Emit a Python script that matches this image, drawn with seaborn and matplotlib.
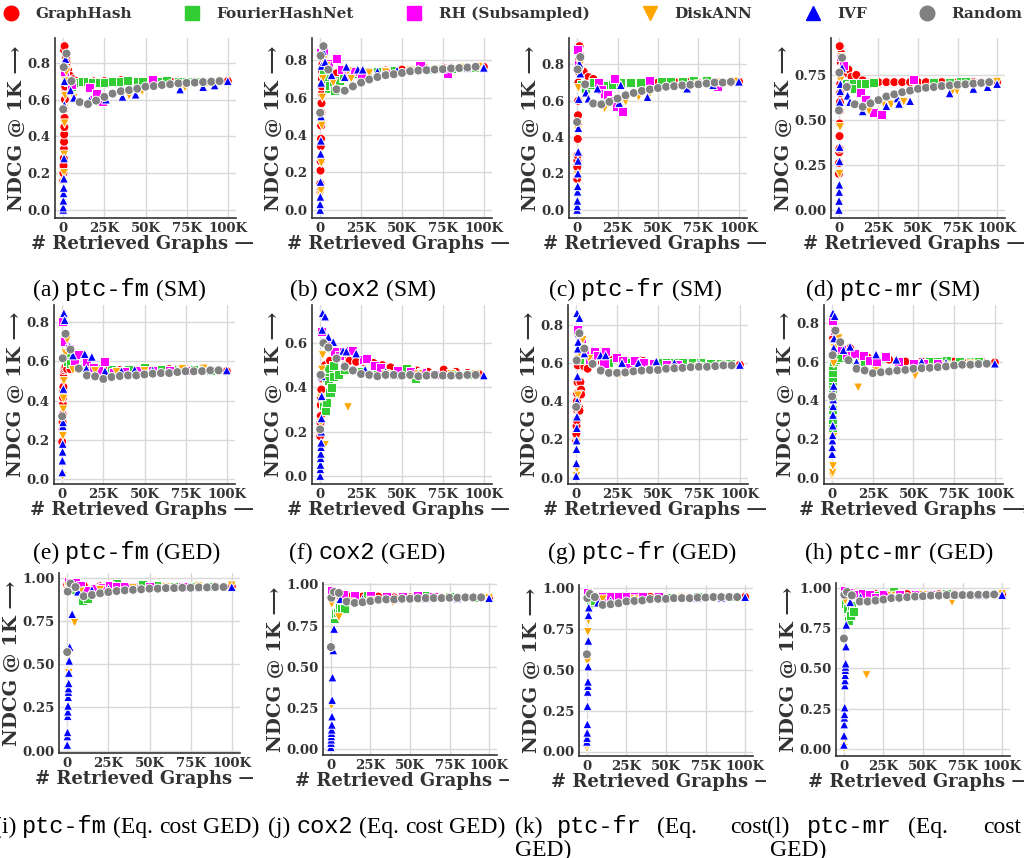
import matplotlib
matplotlib.use("Agg")
import matplotlib.pyplot as plt
import pandas as pd
import seaborn as sns
from matplotlib.lines import Line2D
from matplotlib.ticker import MultipleLocator, FormatStrFormatter, FixedLocator, FixedFormatter
from matplotlib.transforms import Bbox, TransformedBbox
from matplotlib.font_manager import FontProperties

# ---------------------------------------------------------------- data
METHODS = ["GraphHash", "FourierHashNet", "RH (Subsampled)", "DiskANN", "IVF", "Random"]
COLORS = {"GraphHash": "#ff0000", "FourierHashNet": "#32cd32", "RH (Subsampled)": "#ff00ff",
          "DiskANN": "#ffa500", "IVF": "#0000ff", "Random": "#808080"}
MARKERS = {"GraphHash": "o", "FourierHashNet": "s", "RH (Subsampled)": "s",
           "DiskANN": "v", "IVF": "^", "Random": "o"}

X_TICKS = [0, 25, 50, 75, 100]                 # thousands of retrieved graphs
X_TICK_LABELS = ["0", "25K", "50K", "75K", "100K"]

# random baseline is evaluated on a fixed retrieval budget grid (in K)
RANDOM_X = [0, 0.3, 2, 5, 10, 15, 20, 25, 30, 35, 40, 45, 50, 55, 60, 65, 70, 75, 80, 85, 90, 95]

# (retrieved graphs in K, NDCG@1K) per method and panel
# --- (a) ptc-fm, SM
A_GH = [(0, .16), (.1, .20), (.2, .24), (.3, .28), (.4, .33), (.5, .37), (.6, .41), (.7, .45), (.8, .50),
        (.9, .55), (1, .60), (1.1, .64), (1.2, .67), (1.4, .72), (1.6, .78), (1.8, .83), (.4, .87), (.8, .89),
        (2, .80), (3, .76), (4, .73), (6, .71), (8, .70), (12, .70), (18, .70), (25, .70), (30, .70),
        (35, .705), (40, .70), (45, .70), (50, .70), (55, .705), (60, .70), (65, .70), (70, .70), (75, .70),
        (80, .70), (85, .70), (90, .70), (95, .70), (100, .70)]
A_FH = [(3, .70), (5, .67), (8, .69), (10, .69), (12, .70), (15, .70), (18, .69), (22, .69), (25, .69),
        (30, .70), (35, .70), (39, .705), (45, .70), (48, .70), (55, .70), (60, .70), (63, .705), (70, .70),
        (75, .70), (80, .70), (85, .70), (90, .70)]
A_RH = [(1, .74), (3, .70), (5, .68), (16, .665), (18, .60), (20, .63), (24, .59), (54, .71)]
A_DA = [(.3, .15), (.5, .20), (.6, .30), (.8, .47), (1, .55), (1.2, .62), (1.5, .70), (2, .75), (6.5, .61),
        (40, .62), (48, .645), (74, .665), (88, .69), (95, .70)]
A_IV = [(0, 0), (0, .013), (.1, .05), (.2, .09), (.3, .12), (.4, .17), (.5, .28), (.7, .57), (.8, .70),
        (1, .80), (1.4, .82), (4.5, .65), (6.5, .61), (16, .595), (26, .60), (36, .615), (44, .627),
        (71, .655), (85, .668), (92, .677), (100, .70)]
A_RD = [.547, .776, .85, .70, .586, .575, .594, .614, .632, .645, .651, .659, .67, .673, .679, .683, .688,
        .69, .692, .695, .697, .70]

# --- (b) cox2, SM
B_GH = [(0, .10), (.1, .14), (.2, .21), (.3, .26), (.4, .34), (.5, .38), (.6, .45), (.7, .52), (.8, .57),
        (.9, .62), (1, .66), (1.1, .70), (1.2, .74), (1.4, .78), (1.6, .81), (3, .78), (6, .74), (10, .73),
        (15, .73), (20, .73), (25, .735), (30, .74), (35, .74), (40, .745), (45, .745), (50, .75), (55, .75),
        (60, .75), (65, .755), (70, .755), (75, .76), (80, .76), (85, .76), (90, .76), (95, .765), (100, .765)]
B_FH = [(2, .73), (4, .70), (5, .65), (6, .665), (8, .67), (9, .64), (12, .69), (14, .71), (18, .72),
        (22, .73), (29, .74), (35, .74), (45, .745), (55, .75), (65, .75), (72, .755), (80, .755), (88, .76),
        (95, .76)]
B_RH = [(.5, .84), (2, .85), (5, .78), (10, .81), (13, .75), (17, .72), (21, .74), (25, .71), (40, .74),
        (61, .77), (78, .73)]
B_DA = [(.3, .08), (.5, .10), (.7, .25), (1, .45), (1.3, .60), (1.6, .70), (2, .80), (4, .77), (8, .68),
        (17, .74), (19, .70), (30, .73), (40, .735), (55, .745), (70, .75), (88, .76), (97, .765)]
B_IV = [(0, 0), (0, .03), (.1, .07), (.2, .15), (.3, .30), (.4, .37), (.5, .50), (.6, .68), (.8, .77),
        (1.6, .85), (3, .79), (7, .72), (15, .71), (16, .765), (23, .75), (26, .75), (35, .74), (47, .745),
        (60, .75), (75, .755), (90, .76), (100, .76)]
B_RD = [.519, .824, .875, .75, .644, .637, .66, .68, .697, .71, .72, .725, .732, .741, .745, .747, .75,
        .752, .756, .758, .761, .765]

# --- (c) ptc-fr, SM
C_GH = [(0, .17), (.1, .235), (.2, .27), (.3, .30), (.4, .39), (.5, .465), (.6, .52), (.7, .60), (.8, .70),
        (.9, .76), (1, .82), (1.2, .86), (1.5, .90), (2, .85), (4, .76), (7, .73), (10, .72), (15, .68),
        (20, .69), (25, .695), (30, .70), (35, .70), (40, .70), (45, .70), (50, .70), (55, .70), (60, .705),
        (65, .70), (70, .705), (75, .70), (80, .705), (85, .70), (90, .70), (95, .70), (100, .705)]
C_FH = [(3, .69), (5, .667), (8, .69), (10, .70), (14, .69), (18, .686), (22, .69), (27, .70), (33, .70),
        (39, .70), (45, .70), (52, .705), (58, .705), (65, .705), (72, .71), (80, .71)]
C_RH = [(.5, .88), (1, .80), (13, .70), (15, .66), (17, .64), (19, .634), (21, .60), (23, .72),
        (24.5, .566), (28, .54), (45, .71), (87, .677)]
C_DA = [(.2, .19), (.5, .44), (.8, .67), (1.2, .75), (2, .80), (8, .585), (17, .557), (30, .594), (38, .62),
        (45, .64), (60, .67), (75, .69), (88, .70), (98, .705)]
C_IV = [(0, 0), (.1, .02), (.2, .05), (.3, .10), (.4, .13), (.5, .20), (.6, .27), (.7, .32), (.8, .45),
        (1, .61), (1.4, .805), (2, .75), (5.5, .645), (7, .612), (12.6, .667), (26, .588), (27, .686),
        (43.5, .62), (68, .667), (84, .686), (100, .705)]
C_RD = [.483, .772, .84, .69, .585, .58, .594, .612, .63, .643, .654, .662, .67, .677, .68, .684, .688,
        .69, .695, .70, .70, .704]

# --- (d) ptc-mr, SM
D_GH = [(0, .20), (.1, .26), (.2, .32), (.3, .34), (.4, .41), (.5, .48), (.6, .55), (.7, .60), (.8, .65),
        (.9, .70), (1, .75), (1.2, .82), (1.5, .87), (.5, .91), (2.5, .80), (4, .76), (6, .78), (8, .74),
        (11, .75), (15, .72), (20, .71), (25, .71), (30, .71), (35, .71), (40, .71), (45, .71), (50, .71),
        (55, .71), (60, .71), (65, .71), (70, .71), (75, .71), (80, .71), (85, .71), (90, .71), (95, .71),
        (100, .71)]
D_FH = [(5, .70), (7, .69), (9, .705), (10, .673), (13.5, .70), (17, .70), (22, .706), (60, .71), (70, .71),
        (77, .712), (80, .715)]
D_RH = [(1, .85), (3, .80), (13.5, .654), (16.7, .615), (18.8, .577), (22, .542), (27, .53), (47, .725)]
D_DA = [(.2, .03), (.4, .20), (.7, .46), (1, .72), (1.5, .85), (19, .55), (29, .58), (33, .585), (41, .60),
        (71.5, .654), (74.7, .66), (90, .696), (100, .712)]
D_IV = [(0, 0), (.1, .05), (.2, .10), (.3, .14), (.4, .27), (.5, .35), (.6, .60), (.8, .66), (1, .70),
        (2, .79), (5.5, .635), (7, .60), (15, .548), (30, .577), (37, .62), (38, .59), (45, .605), (70, .648),
        (85, .673), (94, .683), (100, .70)]
D_RD = [.553, .763, .846, .683, .587, .573, .592, .61, .63, .642, .654, .663, .673, .679, .683, .688, .692,
        .696, .698, .702, .706, .71]

# --- (e) ptc-fm, GED
E_GH = [(0, .19), (.1, .25), (.2, .29), (.3, .33), (.4, .38), (.5, .415), (.6, .45), (.7, .47), (.8, .52),
        (1, .555), (1.4, .563), (2, .57), (3, .56), (5, .56), (8, .57), (12, .565), (16, .56), (20, .56),
        (25, .56), (30, .555), (35, .555), (40, .555), (45, .555), (50, .555), (55, .555), (60, .56),
        (65, .56), (70, .56), (75, .56), (80, .555), (85, .555), (90, .555), (95, .555), (100, .55)]
E_FH = [(1.5, .62), (2.5, .64), (3.5, .60), (5, .59), (10, .57), (20, .565), (30, .56), (40, .56),
        (50, .566), (60, .56), (70, .56), (80, .557), (90, .555)]
E_RH = [(0, .80), (1.4, .70), (4.5, .667), (7.5, .59), (9.6, .637), (14.7, .60), (18.8, .57), (22, .555),
        (25.5, .60), (31, .545), (38, .55), (46, .554), (55, .555), (65, .555), (75, .555)]
E_DA = [(.2, .017), (.4, .22), (.6, .355), (.8, .41), (1, .50), (2, .64), (3, .71), (6.5, .555), (20, .55),
        (33, .545), (50, .55), (73, .56), (86, .563)]
E_IV = [(0, .035), (.1, .095), (.2, .14), (.3, .18), (.4, .27), (.5, .29), (.7, .46), (1, .845), (1.5, .81),
        (4.5, .675), (6.5, .63), (13.7, .637), (14.7, .563), (18, .623), (26, .55), (36, .55), (44, .557),
        (55, .555), (70, .555), (85, .555), (100, .554)]
E_RD = [.32, .615, .74, .66, .563, .528, .523, .51, .52, .525, .528, .528, .533, .537, .54, .54, .545,
        .549, .549, .55, .554, .554]

# --- (f) cox2, GED
F_GH = [(0, .18), (.1, .20), (.2, .24), (.3, .27), (.4, .32), (.5, .35), (.7, .39), (1, .44), (3, .50),
        (6, .52), (10, .53), (14, .535), (18, .52), (22, .515), (26.5, .515), (32.6, .51), (38, .50),
        (43, .49), (50, .48), (59, .476), (66, .47), (75.5, .48), (83, .47), (90, .465), (97, .46)]
F_FH = [(2, .317), (3, .295), (3.7, .446), (4, .333), (5, .43), (5, .484), (6, .378), (7, .40), (8, .45),
        (8, .50), (11, .46), (15, .48), (25, .47), (35, .47), (45, .46), (53, .484), (58, .44), (70, .46),
        (80, .46), (90, .46)]
F_RH = [(1, .65), (4, .605), (9, .56), (12, .544), (14, .56), (18, .564), (20, .567), (26.5, .525),
        (28.5, .53), (33, .50), (37, .49), (47, .476), (55, .47), (62, .465), (70, .46)]
F_DA = [(.2, .20), (.4, .24), (.6, .35), (.8, .45), (1, .48), (1.5, .545), (3, .14), (17, .31), (40, .46),
        (60, .46), (80, .46), (95, .46)]
F_IV = [(0, 0), (.1, .03), (.2, .05), (.3, .08), (.4, .10), (.5, .13), (.6, .15), (.7, .20), (.8, .26),
        (.9, .36), (1, .45), (1.2, .66), (1.5, .735), (3, .72), (5, .627), (8, .605), (14, .565), (16, .562),
        (22, .553), (27.5, .48), (40, .47), (60, .46), (80, .455), (100, .454)]
F_RD = [.21, .456, .60, .58, .53, .494, .476, .46, .456, .45, .456, .456, .453, .456, .45, .453, .456,
        .453, .453, .453, .456, .456]

# --- (g) ptc-fr, GED
G_GH = [(0, .195), (.1, .23), (.2, .27), (.3, .30), (.4, .355), (.5, .40), (.6, .44), (.8, .50), (1, .587),
        (2, .365), (2, .35), (2.6, .50), (3, .46), (3, .435), (5, .58), (7, .57), (10, .60), (15, .61),
        (20, .62), (25, .62), (30, .615), (35, .61), (39, .613), (41, .61), (49, .604), (55, .60), (60, .60),
        (65, .60), (70, .595), (75, .595), (80, .595), (85, .59), (90, .59), (95, .59), (100, .59)]
G_FH = [(2, .62), (4, .65), (10, .61), (20, .60), (30, .60), (45, .60), (50, .60), (55, .604), (60, .60),
        (65, .60), (71, .60), (76, .60), (82, .598), (88, .595), (94, .595)]
G_RH = [(1, .775), (3, .73), (5, .66), (8, .62), (11, .66), (13, .64), (17, .595), (18, .658), (24.5, .63),
        (28.5, .613), (31.6, .578), (35.7, .613), (41, .604), (47, .595), (55, .59), (62, .59)]
G_DA = [(.2, .01), (.4, .045), (.6, .18), (1, .43), (1.5, .62), (2, .65), (4, .72), (8, .62), (22, .545),
        (27, .54), (35, .55), (45, .56), (60, .57), (75, .58), (90, .585)]
G_IV = [(0, .01), (.1, .076), (.2, .15), (.3, .195), (.4, .26), (.5, .32), (.6, .40), (.8, .53), (1, .675),
        (1.2, .71), (1.5, .755), (.5, .86), (2, .835), (5, .65), (15, .64), (18, .64), (28, .60), (38, .60),
        (49, .608), (60, .60), (75, .595), (90, .59), (100, .59)]
G_RD = [.37, .613, .755, .675, .595, .56, .548, .548, .55, .556, .56, .563, .563, .57, .572, .574, .578,
        .58, .58, .583, .587, .587]

# --- (h) ptc-mr, GED
H_GH = [(0, .265), (.2, .31), (.4, .325), (.6, .72), (1, .70), (2, .68), (4, .66), (8, .65), (11, .67),
        (14, .64), (17, .63), (22, .62), (27, .615), (35, .61), (45, .60), (55, .60), (65, .60), (75, .60),
        (80, .60), (86, .60), (92, .60), (100, .595)]
H_FH = [(0, .255), (0, .30), (0, .35), (0, .405), (0, .45), (0, .475), (0, .50), (.2, .52), (.2, .545),
        (.3, .58), (.4, .615), (1, .60), (2, .61), (5, .62), (10, .61), (20, .60), (40, .60), (60, .60),
        (65, .60), (70, .605), (78, .60), (85, .60), (90, .60)]
H_RH = [(.5, .81), (1.5, .76), (2.5, .70), (5.5, .66), (9, .63), (14, .64), (19, .633), (23, .607),
        (27, .598), (33, .624), (41, .598), (50, .592), (56, .59), (65, .59)]
H_DA = [(.1, .01), (.3, .025), (.5, .06), (.8, .21), (1, .59), (1.5, .67), (4, .72), (16, .466), (27, .55),
        (51, .527), (70, .58), (85, .59)]
H_IV = [(0, .123), (.1, .158), (.2, .193), (.3, .22), (.4, .27), (.5, .325), (.6, .37), (.7, .405),
        (.8, .44), (.9, .475), (1, .67), (1.2, .72), (.5, .85), (1.6, .835), (7, .66), (11, .677), (15, .598),
        (27, .637), (39.4, .61), (55, .60), (70, .595), (85, .59), (100, .59)]
H_RD = [.42, .633, .76, .70, .607, .563, .554, .54, .545, .549, .554, .557, .563, .566, .568, .571, .575,
        .58, .584, .584, .587, .589]

# --- (i) ptc-fm, equal-cost GED
I_GH = [(0, .96), (1, .97), (3, .97), (6, .96), (10, .955), (20, .95), (30, .95), (40, .95), (50, .95),
        (60, .95), (70, .95), (80, .95), (90, .95), (100, .95)]
I_FH = [(2, .96), (5, .93), (9.5, .867), (12.5, .88), (20, .93), (30, .965), (40, .955), (46, .962),
        (55, .955), (65, .95), (75, .95), (85, .95)]
I_RH = [(.5, .98), (2, .975), (5, .97), (8, .955), (12, .926), (16.6, .936), (21.7, .942), (25.7, .956),
        (30, .95), (35, .95), (40, .95), (50, .95), (60, .95), (70, .95)]
I_DA = [(.5, .95), (1, .45), (4.5, .74), (8, .92), (20, .93), (40, .94), (60, .945), (80, .95), (100, .955)]
I_IV = [(0, .034), (.1, .083), (.2, .107), (.3, .20), (.4, .226), (.5, .26), (.6, .31), (.7, .34), (.8, .36),
        (.9, .39), (1, .45), (1.2, .52), (1.5, .60), (3, .79), (6.5, .92), (15, .93), (25, .935), (43, .94),
        (60, .945), (80, .945), (100, .946)]
I_RD = [.57, .92, .966, .946, .893, .90, .91, .917, .923, .927, .93, .933, .937, .937, .94, .94, .942,
        .942, .944, .944, .946, .946]

# --- (j) cox2, equal-cost GED
J_GH = [(0, .93), (2, .94), (5, .935), (10, .93), (20, .925), (30, .925), (40, .92), (50, .92), (60, .92),
        (70, .92), (80, .92), (90, .92), (100, .92)]
J_FH = [(2, .79), (3, .82), (4, .83), (5.3, .84), (5.3, .88), (6.8, .85), (8.5, .855), (15, .92), (23, .932),
        (35, .925), (45, .92), (60, .93), (75, .925), (90, .92)]
J_RH = [(.5, .96), (3, .95), (8, .94), (15, .93), (25, .93), (35, .925), (45, .925), (55, .93), (65, .925)]
J_DA = [(.3, .266), (.5, .88), (5, .80), (12.7, .89), (25, .90), (39, .89), (55, .905), (70, .91),
        (85, .915), (100, .915)]
J_IV = [(0, .014), (.1, .04), (.2, .06), (.3, .08), (.4, .10), (.5, .12), (.6, .15), (.7, .20), (.8, .30),
        (1, .436), (1.5, .60), (2, .73), (6, .91), (20, .91), (40, .91), (60, .915), (80, .915), (100, .916)]
J_RD = [.62, .918, .953, .947, .895, .887, .891, .898, .906, .908, .908, .912, .912, .914, .916, .916,
        .916, .918, .918, .92, .92, .92]

# --- (k) ptc-fr, equal-cost GED
K_GH = [(0, .95), (3, .95), (10, .945), (20, .945), (30, .945), (40, .945), (50, .945), (60, .945),
        (70, .945), (80, .945), (90, .945), (100, .945)]
K_FH = [(2, .92), (3.5, .91), (5, .92), (15, .93), (30, .94), (50, .94), (70, .945), (90, .945)]
K_RH = [(.5, .97), (2, .96), (10, .95), (15, .95), (20, .95), (25, .948), (30, .95), (35, .945), (45, .945)]
K_DA = [(.1, .02), (.2, .04), (.4, .55), (.6, .73), (1, .80), (1.5, .855), (3, .95), (10, .93), (30, .93),
        (60, .94), (90, .945)]
K_IV = [(0, .06), (.1, .083), (.2, .115), (.3, .167), (.4, .277), (.5, .365), (.6, .40), (.7, .427),
        (.8, .52), (.9, .677), (1, .833), (1.2, .88), (7, .91), (15, .92), (30, .93), (50, .935), (70, .94),
        (85, .94), (100, .944)]
K_RD = [.594, .937, .962, .944, .896, .90, .906, .917, .92, .923, .931, .933, .933, .937, .937, .937,
        .941, .941, .944, .944, .944, .944]

# --- (l) ptc-mr, equal-cost GED
L_GH = [(0, .97), (2, .975), (5, .97), (10, .965), (20, .96), (30, .96), (40, .96), (50, .96), (60, .96),
        (70, .96), (80, .96), (90, .96), (100, .96)]
L_FH = [(1, .90), (2, .87), (3, .795), (4, .825), (5, .89), (6, .85), (10, .93), (20, .95), (31.6, .973),
        (45, .96), (65, .965), (80, .96)]
L_RH = [(.5, .98), (3, .97), (8, .955), (12, .962), (16, .958), (20, .94), (25, .955), (35, .955),
        (45, .955), (55, .955)]
L_DA = [(.1, .006), (.3, .05), (.8, .92), (14.3, .458), (30, .95), (50, .955), (68.4, .91), (85, .955),
        (100, .96)]
L_IV = [(0, .027), (.1, .084), (.2, .153), (.3, .195), (.4, .216), (.5, .258), (.6, .395), (.7, .426),
        (.8, .458), (.9, .49), (1, .51), (1.1, .53), (1.3, .636), (1.5, .77), (4, .91), (10.5, .94),
        (30, .945), (50, .95), (70, .955), (85, .955), (100, .955)]
L_RD = [.685, .956, .973, .952, .914, .914, .92, .926, .935, .937, .941, .945, .947, .951, .951, .954,
        .954, .954, .954, .956, .956, .958]

PANEL_LETTERS = ["a", "b", "c", "d", "e", "f", "g", "h", "i", "j", "k", "l"]
DATASETS = ["ptc-fm", "cox2", "ptc-fr", "ptc-mr"] * 3
SETTINGS = ["(SM)"] * 4 + ["(GED)"] * 4 + ["(Eq. cost GED)"] * 4
PANEL_SERIES = [
    (A_GH, A_FH, A_RH, A_DA, A_IV, A_RD), (B_GH, B_FH, B_RH, B_DA, B_IV, B_RD),
    (C_GH, C_FH, C_RH, C_DA, C_IV, C_RD), (D_GH, D_FH, D_RH, D_DA, D_IV, D_RD),
    (E_GH, E_FH, E_RH, E_DA, E_IV, E_RD), (F_GH, F_FH, F_RH, F_DA, F_IV, F_RD),
    (G_GH, G_FH, G_RH, G_DA, G_IV, G_RD), (H_GH, H_FH, H_RH, H_DA, H_IV, H_RD),
    (I_GH, I_FH, I_RH, I_DA, I_IV, I_RD), (J_GH, J_FH, J_RH, J_DA, J_IV, J_RD),
    (K_GH, K_FH, K_RH, K_DA, K_IV, K_RD), (L_GH, L_FH, L_RH, L_DA, L_IV, L_RD),
]


def panel_frame(series):
    frames = []
    for method, pts in zip(METHODS[:-1], series[:-1]):
        frames.append(pd.DataFrame({"retrieved": [p[0] for p in pts],
                                    "ndcg": [p[1] for p in pts], "method": method}))
    rand = series[-1]
    assert len(rand) == len(RANDOM_X)
    frames.append(pd.DataFrame({"retrieved": RANDOM_X, "ndcg": rand, "method": "Random"}))
    return pd.concat(frames, ignore_index=True)


# ---------------------------------------------------------------- style
W, H = 1026, 858
sns.set_theme(style="whitegrid")
plt.rcParams.update({
    "font.family": ["DejaVu Serif", "DejaVu Sans"],
    "font.weight": "bold",
    "axes.edgecolor": "#333333",
    "axes.linewidth": 1.2,
    "grid.color": "#d9d9d9",
    "grid.linewidth": 1.0,
    "text.color": "#333333",
    "axes.labelcolor": "#333333",
    "xtick.color": "#333333",
    "ytick.color": "#333333",
})

fig = plt.figure(figsize=(W / 100, H / 100), dpi=100)

# axes frames in pixels: (left, top, right, bottom)
AX_BOXES = [
    (55, 38, 236, 218), (312, 38, 492, 218), (569, 38, 747, 218), (831, 38, 1005, 218),
    (54, 305, 235, 484), (312, 305, 492, 484), (568, 305, 748, 484), (824, 305, 1003, 484),
    (59, 573, 240, 753), (323, 583, 497, 755), (579, 585, 753, 756), (836, 583, 1010, 756),
]
Y_STEPS = [.2, .2, .2, .25, .2, .2, .2, .2, .25, .25, .25, .25]
COLUMN_RIGHT = [253, 509, 766, 1024]

for k, series in enumerate(PANEL_SERIES):
    l, t, r, b = AX_BOXES[k]
    ax = fig.add_axes([l / W, 1 - b / H, (r - l) / W, (b - t) / H])
    df = panel_frame(series)
    sns.scatterplot(data=df, x="retrieved", y="ndcg", hue="method", style="method",
                    hue_order=METHODS, style_order=METHODS, palette=COLORS, markers=MARKERS,
                    s=42, edgecolor="white", linewidth=0.7, legend=False, ax=ax, zorder=3)
    sns.despine(ax=ax)
    ax.xaxis.set_major_locator(FixedLocator(X_TICKS))
    ax.xaxis.set_major_formatter(FixedFormatter(X_TICK_LABELS))
    step = Y_STEPS[k]
    ax.yaxis.set_major_locator(MultipleLocator(step))
    ax.yaxis.set_major_formatter(FormatStrFormatter("%.2f" if step == .25 else "%.1f"))
    ax.tick_params(axis="both", labelsize=9.5, pad=3, length=0)
    for lab in ax.get_xticklabels() + ax.get_yticklabels():
        lab.set_fontweight("bold")
    ax.set_ylabel("NDCG @ 1K \u27f6", fontsize=14, fontweight="bold", labelpad=1)
    ax.set_xlabel("# Retrieved Graphs \u27f6", fontsize=13, fontweight="bold", labelpad=0)
    col = k % 4
    x0 = (COLUMN_RIGHT[col - 1] if col > 0 else 0) / W
    clip = TransformedBbox(Bbox.from_extents(x0, 0, COLUMN_RIGHT[col] / W, 1), fig.transFigure)
    ax.xaxis.label.set_clip_box(clip)
    ax.xaxis.label.set_clip_on(True)

# ---------------------------------------------------------------- legend
handles = [Line2D([], [], linestyle="none", marker=MARKERS[m], markersize=10.5,
                  markerfacecolor=COLORS[m], markeredgecolor=COLORS[m]) for m in METHODS]
fig.legend(handles, METHODS, loc="center", bbox_to_anchor=(0.5, 1 - 14 / H), ncol=6, frameon=False,
           prop=FontProperties(family="DejaVu Serif", weight="bold", size=11),
           handlelength=1.0, handletextpad=1.1, columnspacing=3.45, borderaxespad=0)

# ---------------------------------------------------------------- sub-captions
SERIF = FontProperties(family="Liberation Serif", weight="normal", size=17)
MONO = FontProperties(family="Liberation Mono", weight="normal", size=17)
SPACE = 6
renderer = fig.canvas.get_renderer()


def word(x_px, y_px, txt, mono=False):
    return fig.text(x_px / W, 1 - y_px / H, txt, fontproperties=MONO if mono else SERIF,
                    color="black", ha="left", va="baseline")


def flow(x_px, y_px, parts):
    x = x_px
    for txt, mono in parts:
        t = word(x, y_px, txt, mono)
        x = t.get_window_extent(renderer).x1 + SPACE


CAPTION_START = [33, 290, 549, 806, 33, 289, 548, 805, -6, 268]
CAPTION_BASE = [296, 296, 296, 296, 559, 559, 559, 559, 833, 833]
for k in range(10):
    parts = [(f"({PANEL_LETTERS[k]})", False), (DATASETS[k], True)]
    parts += [(w, False) for w in SETTINGS[k].split(" ")]
    flow(CAPTION_START[k], CAPTION_BASE[k], parts)

# the last two captions wrap onto a second justified line
for k, xs in ((10, (515, 557, 657, 730, 515)), (11, (767, 807, 908, 983, 770))):
    words = SETTINGS[k].split(" ")
    word(xs[0], 833, f"({PANEL_LETTERS[k]})")
    word(xs[1], 833, DATASETS[k], mono=True)
    word(xs[2], 833, words[0])
    word(xs[3], 833, words[1])
    word(xs[4], 856, words[2])

fig.savefig("out.png", dpi=100, facecolor="white")
